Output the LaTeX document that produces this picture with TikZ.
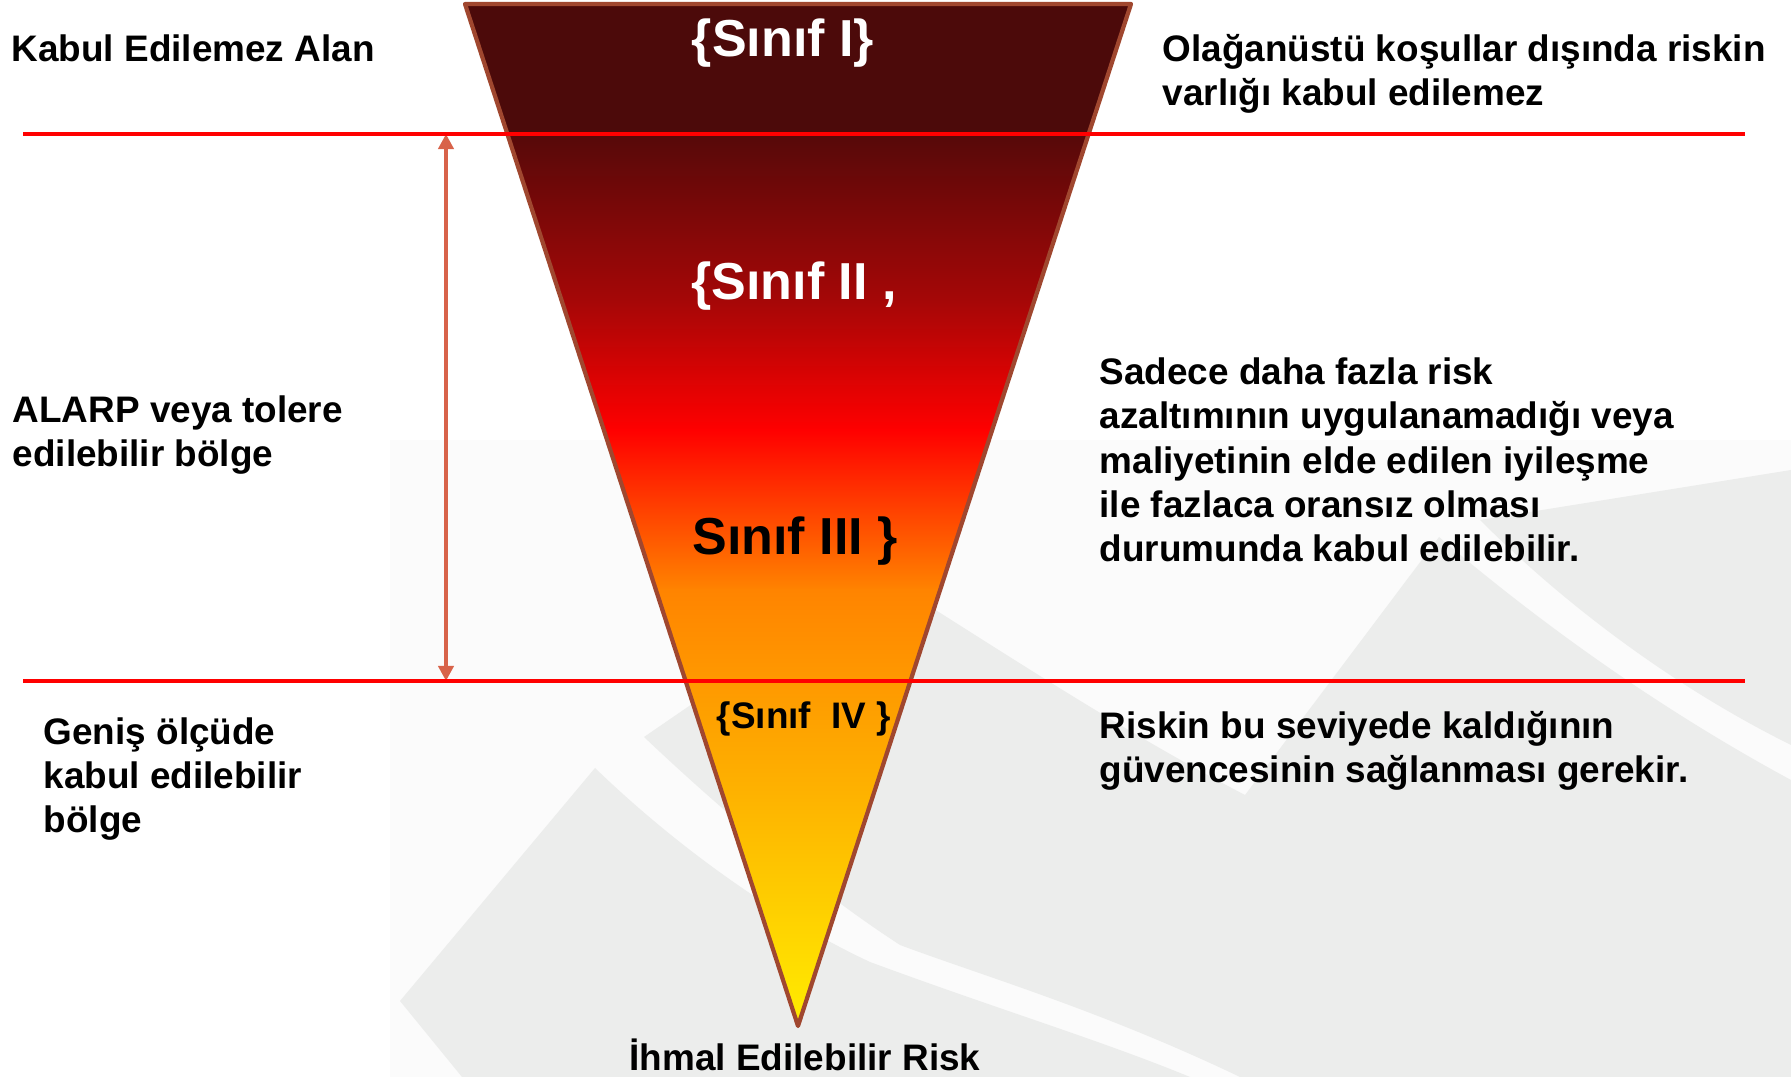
\documentclass[tikz,border=0pt]{standalone}
\usepackage{fontspec}
\setmainfont{Liberation Sans}
\usetikzlibrary{arrows.meta}

\definecolor{wmgray}{HTML}{ECEDEC}
\definecolor{wmpale}{HTML}{FBFBFB}
\definecolor{edgebrown}{HTML}{A0472F}
\definecolor{arrowred}{HTML}{D8634A}
\definecolor{zoneI}{HTML}{4C0A0A}
\definecolor{zoneIb}{HTML}{560909}
\definecolor{darkred}{HTML}{A50707}
\definecolor{hotred}{HTML}{FF0000}
\definecolor{hotorange}{HTML}{FF8400}
\definecolor{amber}{HTML}{FEB400}
\definecolor{lightyellow}{HTML}{FFEE00}

\begin{document}
\begin{tikzpicture}[x=0.1mm,y=-0.1mm,
	zone/.style={font=\fontsize{10.5}{12.66}\selectfont\bfseries, anchor=base west, align=left, inner sep=0pt},
	sinif/.style={font=\fontsize{14.8}{17}\selectfont\bfseries, anchor=base, inner sep=0pt},
	limit/.style={draw=hotred, line width=1.3pt}]
		\useasboundingbox (0,0) rectangle (1791,1077);
		\fill[white] (0,0) rectangle (1791,1077);
		
		% watermark in the background
		\fill[wmpale] (390,440) rectangle (1791,1077);
		\fill[wmgray] (462,1077) -- (400,1001) -- (595,768) .. controls (680,850) and (780,920) .. (870,962)
			.. controls (1000,1010) and (1100,1040) .. (1190,1077) -- cycle;
		\fill[wmgray] (644,737) -- (880,575) .. controls (1000,650) and (1120,730) .. (1245,795) -- (1439,537)
			.. controls (1560,640) and (1680,720) .. (1791,780) -- (1791,1077) -- (1240,1077)
			.. controls (1100,1010) and (980,975) .. (900,945) .. controls (800,880) and (700,790) .. (644,737) -- cycle;
		\fill[wmgray] (1480,520) -- (1791,470) -- (1791,745) .. controls (1680,690) and (1570,610) .. (1480,520) -- cycle;
		
		% funnel
		\coordinate (tl) at (465,4);
		\coordinate (tr) at (1131,4);
		\coordinate (tip) at (798,1026);
		\begin{scope}
			\clip (tl) -- (tr) -- (tip) -- cycle;
			\foreach \ya/\yb/\ca/\cb in {0/134/zoneI/zoneI, 134/300/zoneIb/darkred, 300/430/darkred/hotred,
				430/590/hotred/hotorange, 590/800/hotorange/amber, 800/1030/amber/lightyellow}
				\shade[top color=\ca, bottom color=\cb] (440,\ya) rectangle (1160,{\yb+1});
		\end{scope}
		\draw[edgebrown, line width=1.2pt, line join=round] (tl) -- (tr) -- (tip) -- cycle;
		
		% ALARP arrow and limits
		\coordinate (atop) at (446,134);
		\coordinate (abot) at (446,681);
		\draw[arrowred, line width=1.4pt, {Triangle[length=4.3pt,width=4.3pt]}-{Triangle[length=4.3pt,width=4.3pt]}] (atop) -- (abot);
		\coordinate (l1w) at (23,134);
		\coordinate (l1e) at (1745,134);
		\coordinate (l2w) at (23,681);
		\coordinate (l2e) at (1745,681);
		\draw[limit] (l1w) -- (l1e);
		\draw[limit] (l2w) -- (l2e);
		
		\node[sinif, white] (s1) at (783,57) {\{Sınıf I\}};
		\node[sinif, white] (s2) at (794,300) {\{Sınıf II ,};
		\node[sinif] (s3) at (795,555) {Sınıf III \}};
		\node[zone, anchor=base] (s4) at (804,729) {\{Sınıf\ \ IV \}};
		
		% multi-line texts sit on their last baseline
		\node[zone] (kabul) at (11,62) {Kabul Edilemez Alan};
		\node[zone] (olagan) at (1162,106) {Olağanüstü koşullar dışında riskin\\varlığı kabul edilemez};
		\node[zone] (alarp) at (12,467) {ALARP veya tolere\\edilebilir bölge};
		\node[zone] (sadece) at (1099,562) {Sadece daha fazla risk\\azaltımının uygulanamadığı veya\\maliyetinin elde edilen iyileşme\\ile fazlaca oransız olması\\durumunda kabul edilebilir.};
		\node[zone] (genis) at (43,833) {Geniş ölçüde\\kabul edilebilir\\bölge};
		\node[zone] (riskin) at (1099,783) {Riskin bu seviyede kaldığının\\güvencesinin sağlanması gerekir.};
		\node[zone, anchor=base] (ihmal) at (805,1071) {İhmal Edilebilir Risk};
	\end{tikzpicture}
\end{document}
